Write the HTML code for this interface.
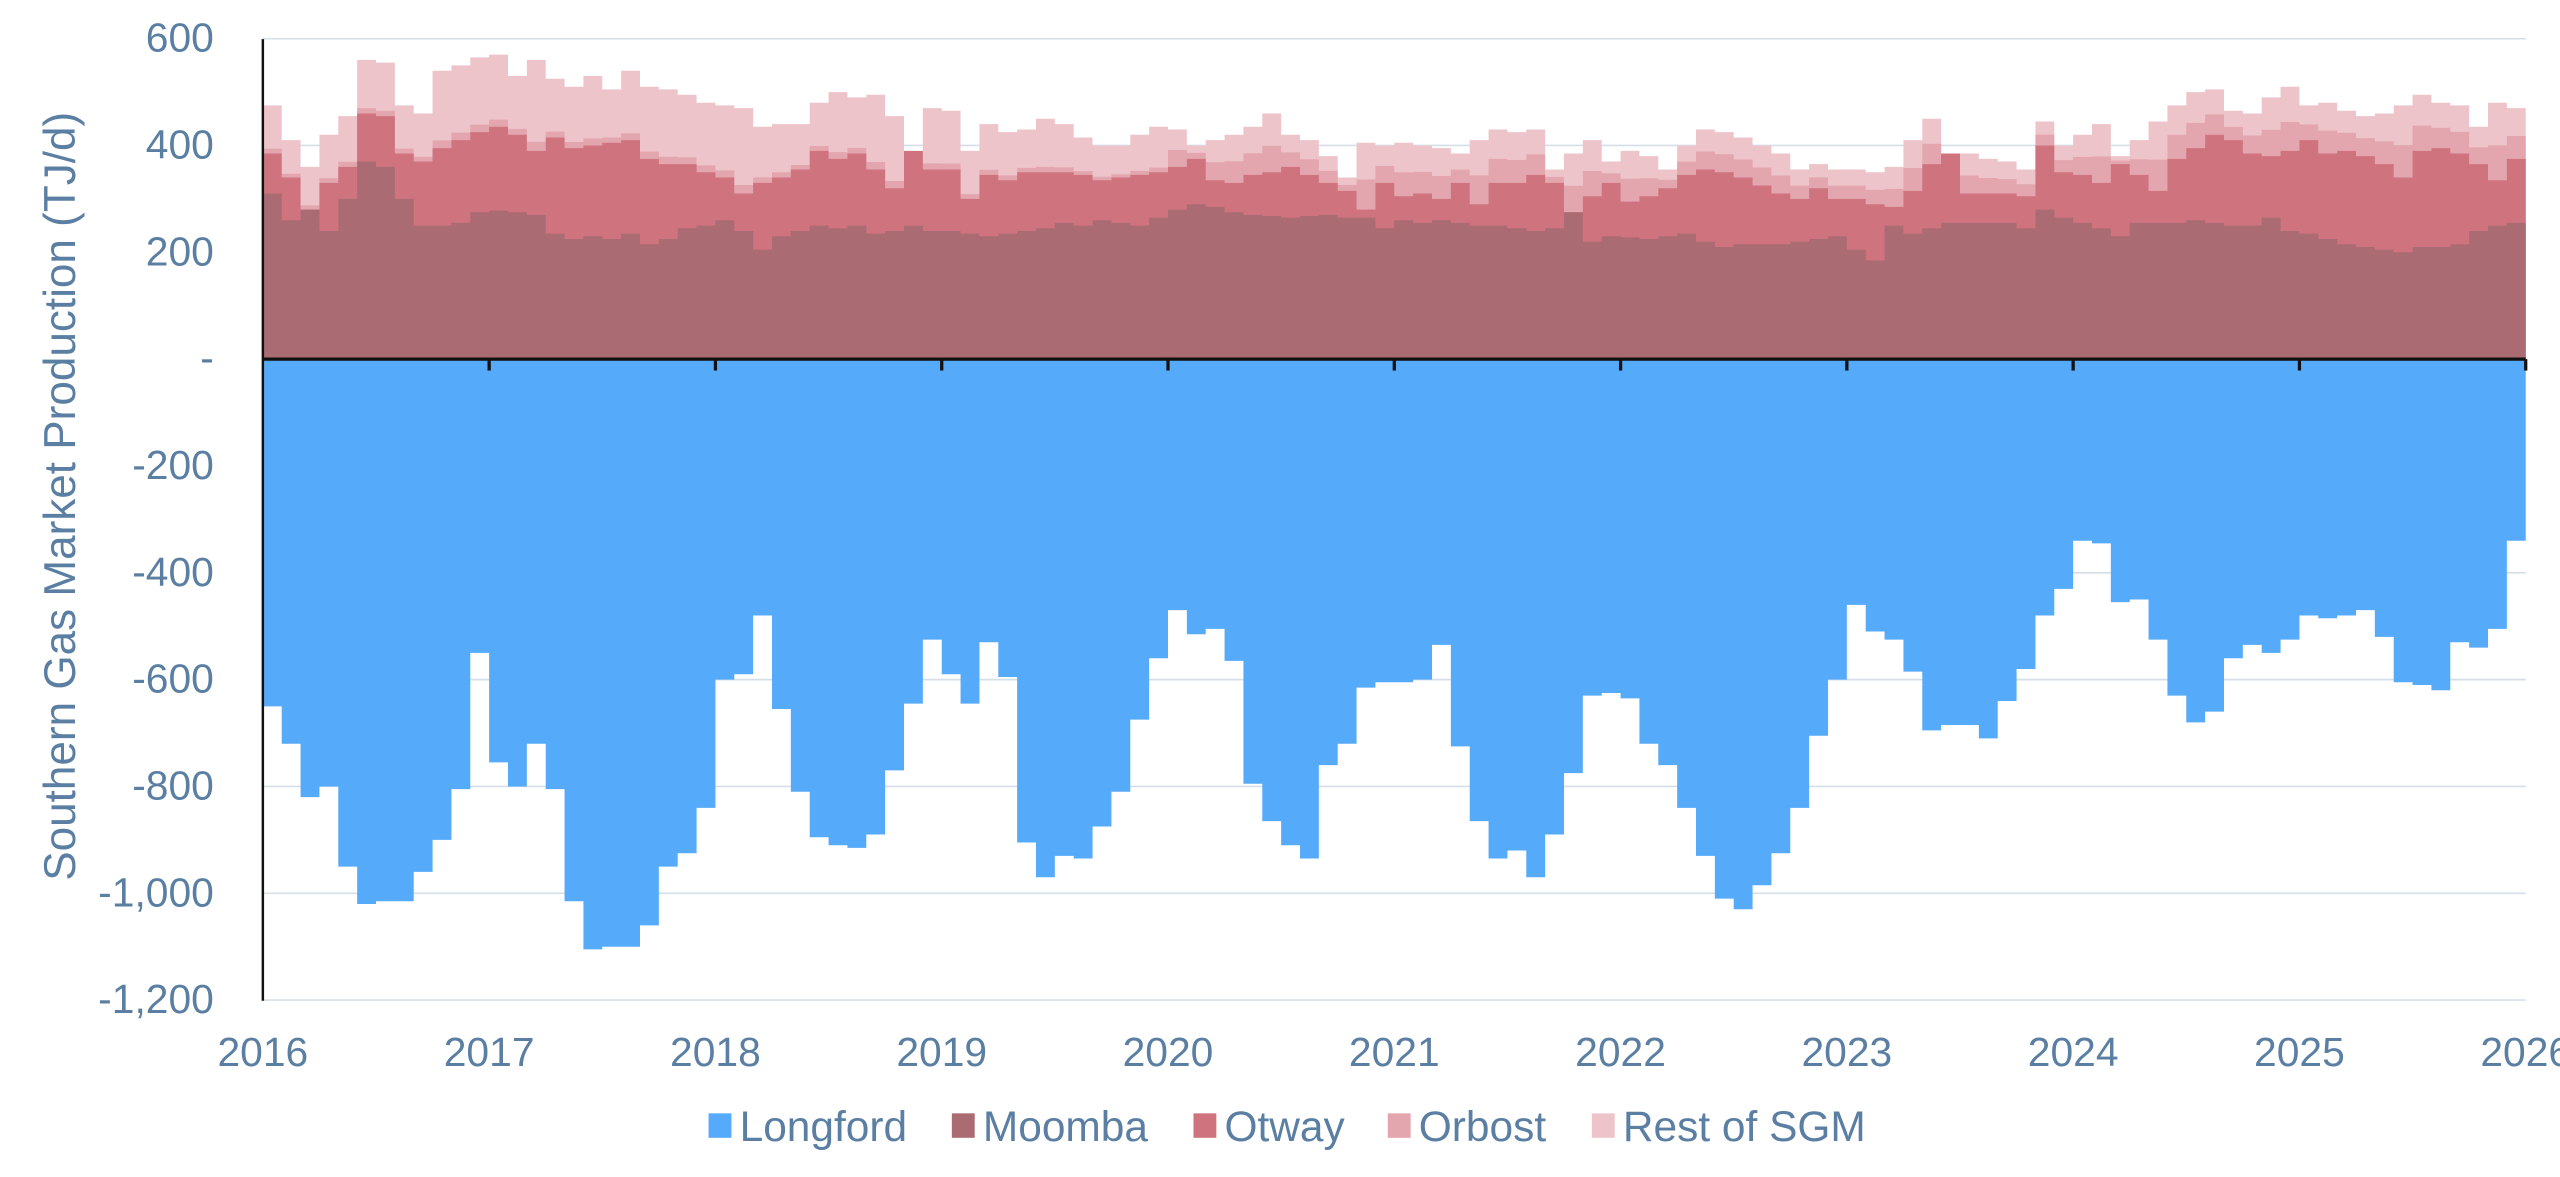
<!DOCTYPE html>
<html><head><meta charset="utf-8"><style>
html,body{margin:0;padding:0;background:#fff;}
svg{display:block;}
text{font-family:"Liberation Sans",sans-serif;fill:#5b7fa3;}
</style></head><body>
<svg id="c" width="2560" height="1177" viewBox="0 0 1568 721" preserveAspectRatio="none" xmlns="http://www.w3.org/2000/svg"></svg>
<script>
var L=[-650,-720,-820,-800,-950,-1020,-1015,-1015,-960,-900,-805,-550,
-755,-800,-720,-805,-1015,-1105,-1100,-1100,-1060,-950,-925,-840,
-600,-590,-480,-655,-810,-895,-910,-915,-890,-770,-645,-525,
-590,-645,-530,-595,-905,-970,-930,-935,-875,-810,-675,-560,
-470,-515,-505,-565,-795,-865,-910,-935,-760,-720,-615,-605,
-605,-600,-535,-725,-865,-935,-920,-970,-890,-775,-630,-625,
-635,-720,-760,-840,-930,-1010,-1030,-985,-925,-840,-705,-600,
-460,-510,-525,-585,-695,-685,-685,-710,-640,-580,-480,-430,
-340,-345,-455,-450,-525,-630,-680,-660,-560,-535,-550,-525,
-480,-485,-480,-470,-520,-605,-610,-620,-530,-540,-505,-340];
var M=[310,260,280,240,300,370,360,300,250,250,255,275,278,275,270,235,225,230,225,235,215,225,245,250,
260,240,205,230,240,250,245,250,235,240,250,240,240,235,230,235,240,245,255,250,260,255,250,265,
280,290,285,275,270,268,265,268,270,265,265,245,260,255,260,255,250,250,245,240,245,275,220,230,
228,225,230,235,220,210,215,215,215,220,225,230,205,185,250,235,245,255,255,255,255,245,280,265,
255,245,230,255,255,255,260,255,250,250,265,240,235,225,215,210,205,200,210,210,215,240,250,255];
var O=[385,340,280,330,360,460,455,385,370,395,410,425,435,420,390,415,395,400,405,410,375,365,365,350,
340,310,330,340,355,390,375,385,355,320,390,355,355,300,345,335,350,350,350,345,335,340,345,350,
360,375,335,330,345,350,360,345,330,315,280,330,305,310,300,330,290,330,330,345,330,275,305,330,
295,305,320,345,355,350,340,325,310,300,320,300,300,290,285,315,365,385,310,310,310,305,400,350,
345,330,365,345,315,375,395,420,410,385,380,390,410,385,390,380,365,340,390,395,385,365,335,375];
var R=[475,410,360,420,455,560,555,475,460,540,550,565,570,530,560,525,510,530,505,540,510,505,495,480,
475,470,435,440,440,480,500,490,495,455,355,470,465,390,440,425,430,450,440,415,400,400,420,435,
430,400,410,420,435,460,420,410,380,340,405,400,405,400,395,385,410,430,425,430,355,385,410,370,
390,380,355,400,430,425,415,400,385,355,365,355,355,350,360,410,450,385,385,375,370,355,445,400,
420,440,380,410,445,475,500,505,465,460,490,510,475,480,465,455,460,475,495,480,475,435,480,470];
var B=[];for(var i=0;i<120;i++){var f=i<48?0.1:0.45;B.push(O[i]+(R[i]-O[i])*f);}
var x0=161,x1=1547,w=(x1-x0)/120;
function Y(v){return 220-v*0.3272;}
function step(a){var d="M"+x0+" "+Y(0);for(var i=0;i<120;i++){d+="L"+(x0+i*w).toFixed(2)+" "+Y(a[i]).toFixed(2)+"L"+(x0+(i+1)*w).toFixed(2)+" "+Y(a[i]).toFixed(2);}return d+"L"+x1+" "+Y(0)+"Z";}
var s="";
[600,400,200,-200,-400,-600,-800,-1000,-1200].forEach(function(v){s+='<line x1="161" x2="1547" y1="'+Y(v)+'" y2="'+Y(v)+'" stroke="#d6dfe8" stroke-width="1"/>';});
s+='<path d="'+step(R)+'" fill="#edc4ca"/>';
s+='<path d="'+step(B)+'" fill="#e3a6ae"/>';
s+='<path d="'+step(O)+'" fill="#cf737e"/>';
s+='<path d="'+step(M)+'" fill="#ab6b72"/>';
s+='<path d="'+step(L)+'" fill="#55abfa"/>';
s+='<line x1="161" x2="161" y1="24" y2="613" stroke="#111" stroke-width="1.5"/>';
s+='<line x1="161" x2="1547" y1="220" y2="220" stroke="#111" stroke-width="2"/>';
var labs=["600","400","200","-","-200","-400","-600","-800","-1,000","-1,200"];
[600,400,200,0,-200,-400,-600,-800,-1000,-1200].forEach(function(v,k){s+='<text x="131" y="'+(Y(v)+8)+'" text-anchor="end" font-size="25">'+labs[k]+'</text>';});
for(var k=0;k<=10;k++){var x=x0+k*w*12;if(k>0)s+='<line x1="'+x+'" x2="'+x+'" y1="220" y2="227" stroke="#111" stroke-width="2"/>';
s+='<text x="'+x+'" y="653" text-anchor="middle" font-size="25">'+(2016+k)+'</text>';}
s+='<text transform="translate(46,304) rotate(-90)" text-anchor="middle" font-size="27">Southern Gas Market Production (TJ/d)</text>';
var lg=[["Longford","#55abfa",434],["Moomba","#ab6b72",583],["Otway","#cf737e",731],["Orbost","#e3a6ae",850],["Rest of SGM","#edc4ca",975]];
lg.forEach(function(e){s+='<rect x="'+e[2]+'" y="682" width="14" height="15" fill="'+e[1]+'"/><text x="'+(e[2]+19)+'" y="699" font-size="26">'+e[0]+'</text>';});
document.getElementById("c").innerHTML=s;
</script>
</body></html>
